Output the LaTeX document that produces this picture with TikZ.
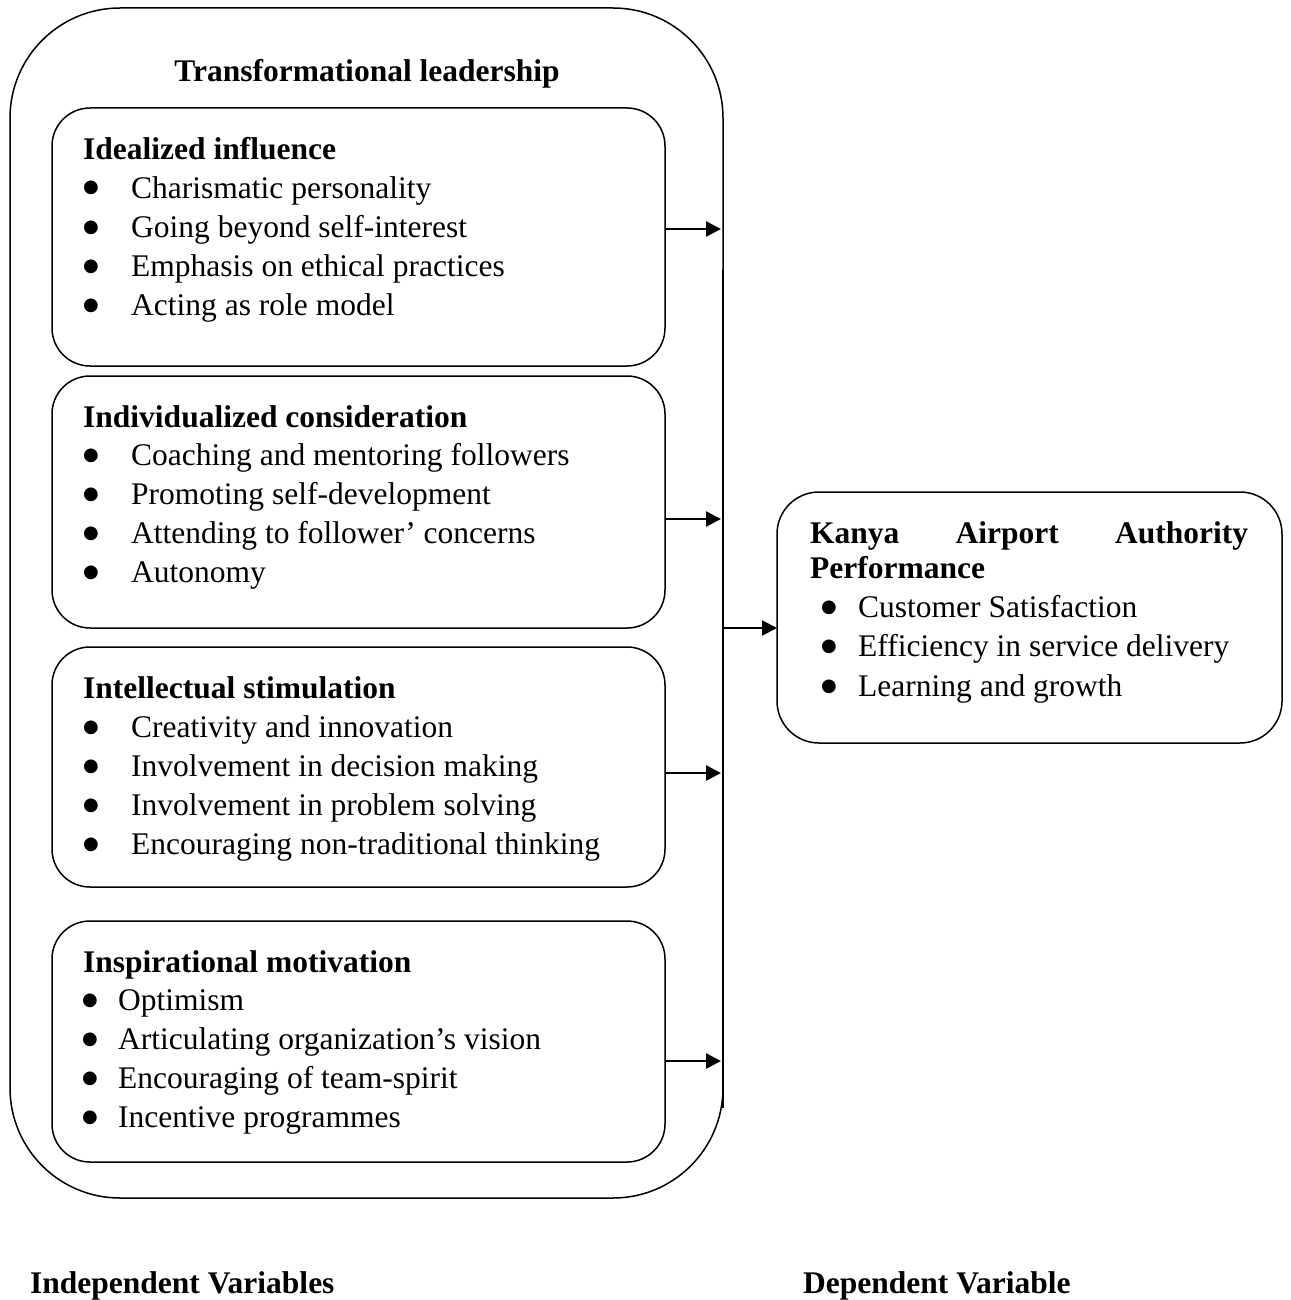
\documentclass[tikz,border=0pt]{standalone}
\usepackage{fontspec}
\setmainfont{Liberation Serif}
\newfontfamily\dotfont{DejaVu Sans}
\usetikzlibrary{arrows.meta}
\begin{document}
\begin{tikzpicture}[x=1pt,y=-1pt,
  box/.style={draw, line width=1.5pt, rounded corners=38pt, anchor=north west, inner sep=0pt, outer sep=0pt},
  txt/.style={anchor=base west, inner sep=0pt, font=\fontsize{31.5}{39}\selectfont},
  ttl/.style={anchor=base west, inner sep=0pt, font=\fontsize{31.5}{39}\selectfont\bfseries},
  bul/.style={anchor=base, inner sep=0pt, font=\dotfont\fontsize{18}{20}\selectfont},
  arr/.style={line width=2.5pt, -{Triangle[length=15pt,width=15pt]}},
  bus/.style={line width=2.5pt},
]
\useasboundingbox (0,0) rectangle (1290,1300);

% outer box
\node[box, rounded corners=110pt, minimum width=713pt, minimum height=1190pt] (outer) at (10,8) {};
\node[ttl, anchor=base] (tl) at (367,82) {Transformational leadership};

% inner boxes
\node[box, minimum width=613pt, minimum height=258pt] (b1) at (52,108) {};
\node[box, minimum width=613pt, minimum height=252pt] (b2) at (52,376) {};
\node[box, minimum width=613pt, minimum height=240pt] (b3) at (52,647) {};
\node[box, minimum width=613pt, minimum height=241pt] (b4) at (52,921) {};

% right box
\node[box, rounded corners=42pt, minimum width=505pt, minimum height=251pt] (kaa) at (777,492) {};

% box 1
\node[ttl] (h1) at (83,160) {Idealized influence};
\foreach \t [count=\i from 0] in {Charismatic personality, Going beyond self-interest, Emphasis on ethical practices, Acting as role model}{
  \node[bul] (p1b\i) at (91,193+39*\i) {●};
  \node[txt] (p1t\i) at (131,198+39*\i) {\t};
}
% box 2
\node[ttl] (h2) at (83,427) {Individualized consideration};
\foreach \t [count=\i from 0] in {Coaching and mentoring followers, Promoting self-development, Attending to follower’ concerns, Autonomy}{
  \node[bul] (p2b\i) at (91,460+39*\i) {●};
  \node[txt] (p2t\i) at (131,465+39*\i) {\t};
}
% box 3
\node[ttl] (h3) at (83,698) {Intellectual stimulation};
\foreach \t [count=\i from 0] in {Creativity and innovation, Involvement in decision making, Involvement in problem solving, Encouraging non-traditional thinking}{
  \node[bul] (p3b\i) at (91,732+39*\i) {●};
  \node[txt] (p3t\i) at (131,737+39*\i) {\t};
}
% box 4
\node[ttl] (h4) at (83,972) {Inspirational motivation};
\foreach \t [count=\i from 0] in {Optimism, Articulating organization’s vision, Encouraging of team-spirit, Incentive programmes}{
  \node[bul] (p4b\i) at (90,1005+39*\i) {●};
  \node[txt] (p4t\i) at (118,1010+39*\i) {\t};
}

% right box text
\node[ttl] (k1) at (810,543) {\makebox[438pt][s]{Kanya Airport Authority}};
\node[ttl] (k2) at (810,578) {Performance};
\foreach \t [count=\i from 0] in {Customer Satisfaction, Efficiency in service delivery, Learning and growth}{
  \node[bul] (kb\i) at (829,612+39.5*\i) {●};
  \node[txt] (kt\i) at (858,617+39.5*\i) {\t};
}

% connectors
\coordinate (bt) at (723,270);
\coordinate (bb) at (723,1108);
\coordinate (j1) at (721,229);
\coordinate (j2) at (721,519);
\coordinate (j3) at (721,773);
\coordinate (j4) at (721,1061);
\coordinate (j5) at (723,628);
\draw[bus] (bt) -- (bb);
\draw[arr] (b1.east |- j1) -- (j1);
\draw[arr] (b2.east |- j2) -- (j2);
\draw[arr] (b3.east |- j3) -- (j3);
\draw[arr] (b4.east |- j4) -- (j4);
\draw[arr] (j5) -- (kaa.west |- j5);

% bottom labels
\node[ttl] (iv) at (30,1293) {Independent Variables};
\node[ttl] (dv) at (803,1293) {Dependent Variable};
\end{tikzpicture}
\end{document}
